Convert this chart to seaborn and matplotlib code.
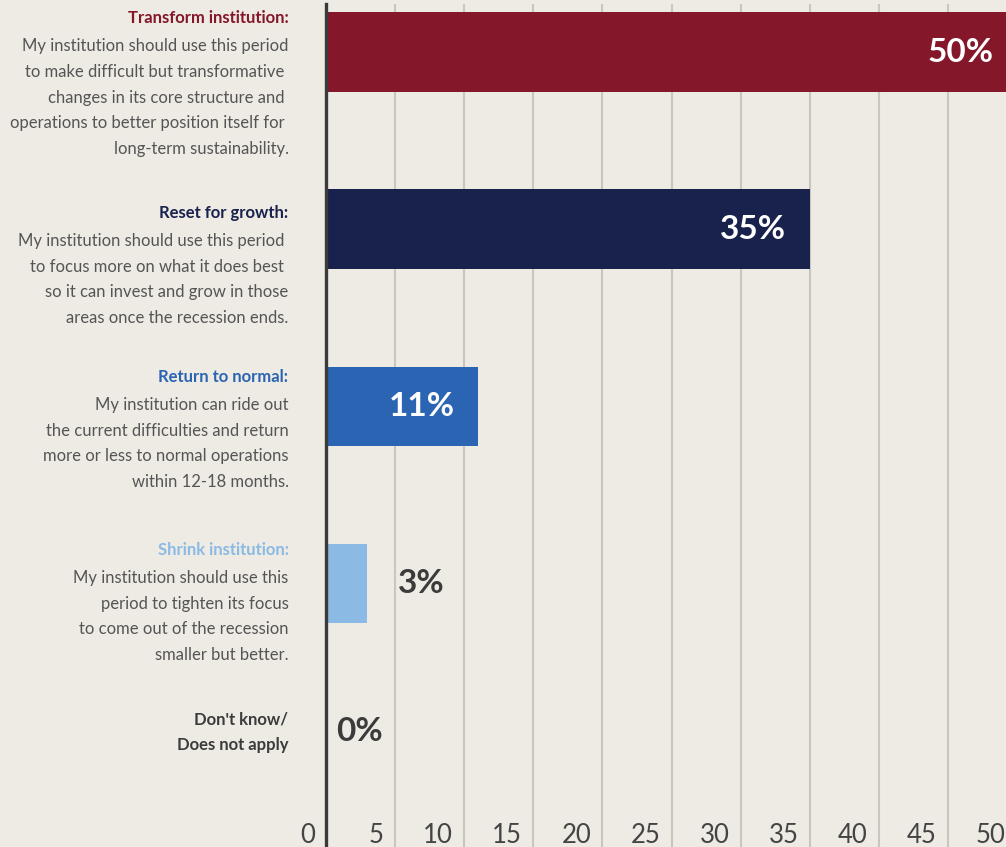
import matplotlib
matplotlib.use('Agg')
import matplotlib.pyplot as plt
import matplotlib.transforms as mtransforms
import seaborn as sns
import pandas as pd

# Survey answers and shares (%)
categories = ['Transform institution', 'Reset for growth', 'Return to normal',
              'Shrink institution', "Don't know"]
shares = [50, 35, 11, 3, 0]
titles = ['Transform institution:', 'Reset for growth:', 'Return to normal:',
          'Shrink institution:', "Don't know/\nDoes not apply"]
descriptions = [
    'My institution should use this period\nto make difficult but transformative \n'
    'changes in its core structure and \noperations to better position itself for \n'
    'long-term sustainability.',
    'My institution should use this period \nto focus more on what it does best \n'
    'so it can invest and grow in those\nareas once the recession ends.',
    'My institution can ride out\nthe current difficulties and return\n'
    'more or less to normal operations\nwithin 12-18 months.',
    'My institution should use this\nperiod to tighten its focus\n'
    'to come out of the recession\nsmaller but better.',
    '',
]
bar_colors = ['#85172A', '#19214D', '#2A64B2', '#8BBAE4', '#3B3B3B']
x_ticks = [0, 5, 10, 15, 20, 25, 30, 35, 40, 45, 50]

df = pd.DataFrame({'category': categories, 'share': shares})

bg = '#EEEBE4'
sns.set_theme(style='white')
plt.rcParams['font.family'] = ['Lato', 'DejaVu Sans']

fig = plt.figure(figsize=(10.06, 8.47), dpi=100, facecolor=bg)
ax = fig.add_axes([326 / 1006, 0, 680 / 1006, 843 / 847])
ax.set_facecolor(bg)

sns.barplot(data=df, x='share', y='category', hue='category', palette=bar_colors,
            orient='h', width=0.45, saturation=1, legend=False, ax=ax, zorder=3,
            linewidth=0)

ax.set_xticks(x_ticks)
ax.set_xticklabels([])
ax.set_yticks([])
ax.set_xlim(0, 680 / 13.82)
ax.set_ylim(4.487, -0.271)
ax.set_xlabel('')
ax.set_ylabel('')
ax.grid(axis='x', color='#C9C6BF', lw=1.5, zorder=0)
ax.tick_params(length=0)
for s in ['top', 'right', 'bottom']:
    ax.spines[s].set_visible(False)
ax.spines['left'].set_color('#3A3A3A')
ax.spines['left'].set_linewidth(2.4)
ax.spines['left'].set_zorder(5)

# x tick labels, sitting left of each gridline at the bottom
tick_tr = mtransforms.offset_copy(ax.get_xaxis_transform(), fig=fig, x=-8, y=3, units='points')
for t in x_ticks:
    ax.text(t, 0, str(t), transform=tick_tr, ha='right', va='baseline',
            fontsize=18.5, color='#444444', clip_on=False)

# value labels
value_offsets = [-17, -17, -17, 22, 7]
value_shift = [0, 0, 0, 0, -0.163]
for i, v in enumerate(shares):
    inside = v >= 10
    tr = mtransforms.offset_copy(ax.transData, fig=fig, x=value_offsets[i], units='points')
    ax.text(v, i + value_shift[i], f'{v}%', transform=tr, ha='right' if inside else 'left',
            va='center', fontsize=24, fontweight='bold',
            color='white' if inside else '#3B3B3B', zorder=6, clip_on=False)

# category labels on the left
title_offsets = [-0.192, -0.092, -0.166, -0.190, -0.16]
label_tr = mtransforms.offset_copy(ax.transData, fig=fig, x=-27, units='points')
for i in range(len(categories)):
    ty = i + title_offsets[i]
    ax.text(0, ty, titles[i], transform=label_tr, ha='right', va='center',
            fontsize=12, fontweight='bold', color=bar_colors[i],
            linespacing=1.75, clip_on=False, multialignment='right')
    if descriptions[i]:
        ax.text(0, ty + 0.113, descriptions[i], transform=label_tr, ha='right', va='top',
                fontsize=12, color='#555555', linespacing=1.75, clip_on=False,
                multialignment='right')

fig.savefig('out.png', dpi=100, facecolor=bg)
